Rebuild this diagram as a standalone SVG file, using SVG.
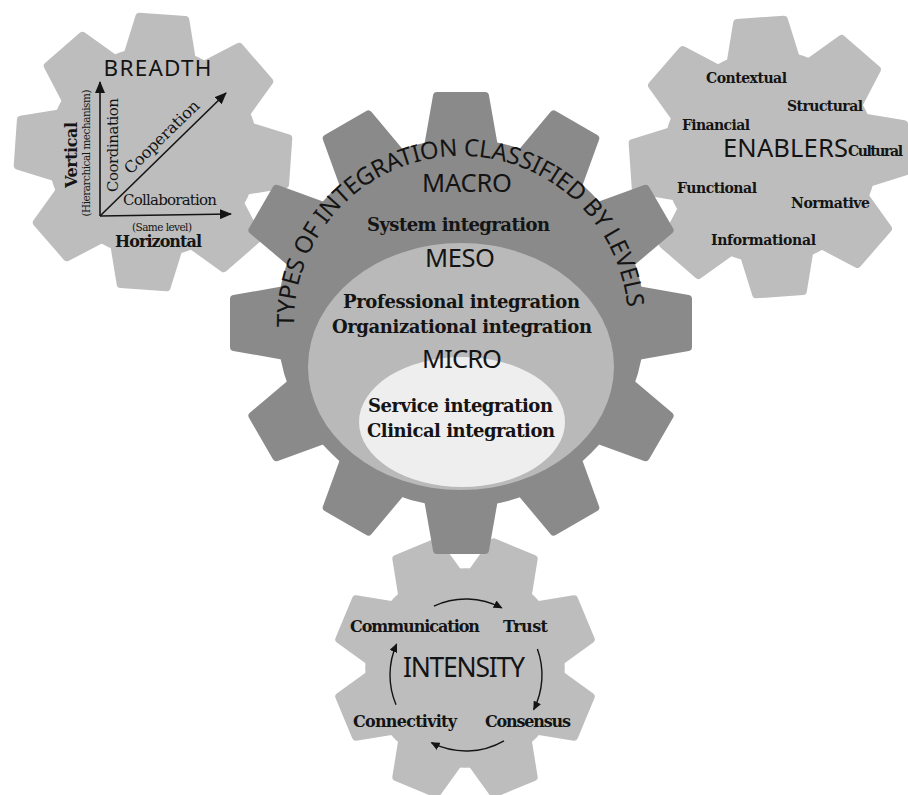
<svg xmlns="http://www.w3.org/2000/svg" xmlns:xlink="http://www.w3.org/1999/xlink" width="908" height="795" viewBox="0 0 908 795">
<style>
.light{fill:#bdbdbd;stroke:#bdbdbd;stroke-width:8;stroke-linejoin:round}
.dark{fill:#8a8a8a;stroke:#8a8a8a;stroke-width:8;stroke-linejoin:round}
.cap{font-family:"Noto Sans","Open Sans",sans-serif;fill:#141414}
.bs{font-family:"DejaVu Serif","Liberation Serif",serif;font-weight:bold;fill:#141414}
.rs{font-family:"DejaVu Serif","Liberation Serif",serif;fill:#141414}
.ax{stroke:#141414;stroke-width:1.6;fill:none}
.arc{stroke:#141414;stroke-width:1.4;fill:none}
</style>
<defs>
<path id="toothS" d="M-23,-134 L23,-134 L32,-96 L-32,-96 Z"/>
<path id="toothL" d="M-24,-227 L24,-227 L33,-176 L-33,-176 Z"/>
<marker id="ah" markerUnits="userSpaceOnUse" markerWidth="12" markerHeight="10" refX="11" refY="5" orient="auto"><path d="M0,0 L12,5 L0,10 Z" fill="#141414"/></marker>
<marker id="ahs" markerUnits="userSpaceOnUse" markerWidth="9" markerHeight="8" refX="8" refY="4" orient="auto"><path d="M0,0 L9,4 L0,8 Z" fill="#141414"/></marker>
<path id="titleArc" d="M294.05,327.1 A167,167 0 1 1 627.9,328.8"/>
</defs>
<rect width="908" height="795" fill="#ffffff"/>

<g id="gear-breadth">
<g class="light" transform="translate(153,152) rotate(4)">
<circle r="101"/>
<use xlink:href="#toothS"/>
<use xlink:href="#toothS" transform="rotate(45)"/>
<use xlink:href="#toothS" transform="rotate(90)"/>
<use xlink:href="#toothS" transform="rotate(135)"/>
<use xlink:href="#toothS" transform="rotate(180)"/>
<use xlink:href="#toothS" transform="rotate(225)"/>
<use xlink:href="#toothS" transform="rotate(270)"/>
<use xlink:href="#toothS" transform="rotate(315)"/>
</g>
<text class="cap" x="157.5" y="76" font-size="22.5" text-anchor="middle" textLength="108">BREADTH</text>
<text class="rs" transform="translate(118,145) rotate(-90)" font-size="15" text-anchor="middle" textLength="94">Coordination</text>
<text class="rs" transform="translate(165.6,140.9) rotate(-44.3)" font-size="16" text-anchor="middle" textLength="98">Cooperation</text>
<text class="rs" x="170" y="205" font-size="15" text-anchor="middle" textLength="94">Collaboration</text>
<text class="rs" x="162" y="231" font-size="10.5" text-anchor="middle" textLength="60">(Same level)</text>
<text class="bs" x="158.5" y="247" font-size="16" text-anchor="middle" textLength="87">Horizontal</text>
<text class="bs" transform="translate(77,155) rotate(-90)" font-size="16" text-anchor="middle" textLength="66">Vertical</text>
<text class="rs" transform="translate(90,153) rotate(-90)" font-size="10.5" text-anchor="middle" textLength="127">(Hierarchical mechanism)</text>
</g>

<g id="gear-enablers">
<g class="light" transform="translate(770,157) rotate(-4) scale(1.015)">
<circle r="101"/>
<use xlink:href="#toothS"/>
<use xlink:href="#toothS" transform="rotate(45)"/>
<use xlink:href="#toothS" transform="rotate(90)"/>
<use xlink:href="#toothS" transform="rotate(135)"/>
<use xlink:href="#toothS" transform="rotate(180)"/>
<use xlink:href="#toothS" transform="rotate(225)"/>
<use xlink:href="#toothS" transform="rotate(270)"/>
<use xlink:href="#toothS" transform="rotate(315)"/>
</g>
<text class="bs" x="746.5" y="83" font-size="14" text-anchor="middle" textLength="81">Contextual</text>
<text class="bs" x="825" y="111" font-size="14" text-anchor="middle" textLength="76">Structural</text>
<text class="bs" x="716" y="130" font-size="14" text-anchor="middle" textLength="68">Financial</text>
<text class="cap" x="785.5" y="157" font-size="25.5" text-anchor="middle" textLength="125">ENABLERS</text>
<text class="bs" x="875.5" y="156" font-size="14" text-anchor="middle" textLength="55">Cultural</text>
<text class="bs" x="717" y="193" font-size="14" text-anchor="middle" textLength="80">Functional</text>
<text class="bs" x="830.5" y="208" font-size="14" text-anchor="middle" textLength="79">Normative</text>
<text class="bs" x="763.5" y="245" font-size="14" text-anchor="middle" textLength="105">Informational</text>
</g>

<g id="gear-intensity">
<g class="light" transform="translate(465,668) rotate(22.5) scale(0.95)">
<circle r="101"/>
<use xlink:href="#toothS"/>
<use xlink:href="#toothS" transform="rotate(45)"/>
<use xlink:href="#toothS" transform="rotate(90)"/>
<use xlink:href="#toothS" transform="rotate(135)"/>
<use xlink:href="#toothS" transform="rotate(180)"/>
<use xlink:href="#toothS" transform="rotate(225)"/>
<use xlink:href="#toothS" transform="rotate(270)"/>
<use xlink:href="#toothS" transform="rotate(315)"/>
</g>
<text class="bs" x="415" y="632" font-size="16" text-anchor="middle" textLength="130">Communication</text>
<text class="bs" x="525.5" y="632" font-size="16" text-anchor="middle" textLength="45">Trust</text>
<text class="cap" x="464" y="677" font-size="26.5" text-anchor="middle" textLength="122">INTENSITY</text>
<text class="bs" x="405" y="727" font-size="16" text-anchor="middle" textLength="104">Connectivity</text>
<text class="bs" x="528" y="727" font-size="16" text-anchor="middle" textLength="86">Consensus</text>
</g>

<g id="gear-main">
<g class="dark" transform="translate(461,323)">
<circle r="180"/>
<use xlink:href="#toothL"/>
<use xlink:href="#toothL" transform="rotate(30)"/>
<use xlink:href="#toothL" transform="rotate(60)"/>
<use xlink:href="#toothL" transform="rotate(90)"/>
<use xlink:href="#toothL" transform="rotate(120)"/>
<use xlink:href="#toothL" transform="rotate(150)"/>
<use xlink:href="#toothL" transform="rotate(180)"/>
<use xlink:href="#toothL" transform="rotate(210)"/>
<use xlink:href="#toothL" transform="rotate(240)"/>
<use xlink:href="#toothL" transform="rotate(270)"/>
<use xlink:href="#toothL" transform="rotate(300)"/>
<use xlink:href="#toothL" transform="rotate(330)"/>
</g>
<ellipse cx="461" cy="366.5" rx="153" ry="123.5" fill="#b9b9b9"/>
<ellipse cx="462" cy="422" rx="103" ry="65" fill="#eeeeee"/>
<text class="cap" font-size="24"><textPath xlink:href="#titleArc" textLength="513">TYPES OF INTEGRATION CLASSIFIED BY LEVELS</textPath></text>
<text class="cap" x="467" y="192" font-size="25.5" text-anchor="middle" textLength="90">MACRO</text>
<text class="bs" x="458.5" y="231" font-size="18" text-anchor="middle" textLength="183">System integration</text>
<text class="cap" x="460" y="267" font-size="25.5" text-anchor="middle" textLength="70">MESO</text>
<text class="bs" x="461.5" y="308" font-size="18" text-anchor="middle" textLength="237">Professional integration</text>
<text class="bs" x="462" y="333" font-size="18" text-anchor="middle" textLength="260">Organizational integration</text>
<text class="cap" x="462" y="368" font-size="25.5" text-anchor="middle" textLength="80">MICRO</text>
<text class="bs" x="460.5" y="412" font-size="18" text-anchor="middle" textLength="185">Service integration</text>
<text class="bs" x="461" y="437" font-size="18" text-anchor="middle" textLength="188">Clinical integration</text>
</g>

<g id="connectors">
<path class="ax" d="M100,216 L100,82" marker-end="url(#ah)"/>
<path class="ax" d="M100,216 L231,214" marker-end="url(#ah)"/>
<path class="ax" d="M100,216 L226,93" marker-end="url(#ah)"/>
<path class="arc" d="M433.9,606.1 A76,76 0 0 1 501.7,607.9" marker-end="url(#ahs)"/>
<path class="arc" d="M537.4,649 A76,76 0 0 1 533.7,709.5" marker-end="url(#ahs)"/>
<path class="arc" d="M504,740.8 A76,76 0 0 1 431.5,742.7" marker-end="url(#ahs)"/>
<path class="arc" d="M396,704.7 A76,76 0 0 1 396.6,644.1" marker-end="url(#ahs)"/>
</g>
</svg>
